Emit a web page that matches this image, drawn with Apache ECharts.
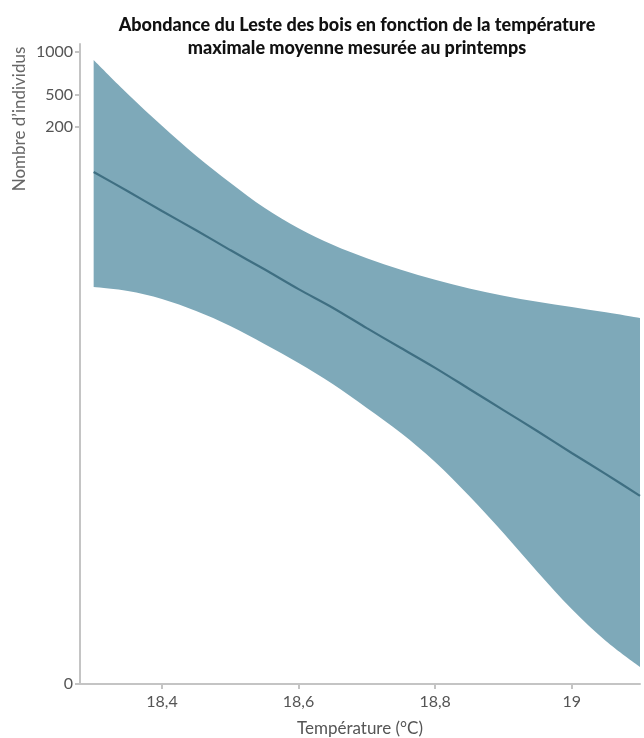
<!DOCTYPE html>
<html>
<head>
<meta charset="utf-8">
<script src="https://cdn.jsdelivr.net/npm/echarts@6/dist/echarts.min.js"></script>
<style>
html,body{margin:0;padding:0;background:#fff;}
#chart{width:644px;height:738px;}
</style>
</head>
<body>
<div id="chart"></div>
<script>
// Temperature (°C)
var temperatures = [18.30,18.35,18.40,18.45,18.50,18.55,18.60,18.65,18.70,18.75,18.80,18.85,18.90,18.95,19.00,19.05,19.10];
// Values in the chart's own (non-linear) vertical units
var upperBound = [97.5,92.19,87.23,82.55,78.33,74.42,71.22,68.63,66.53,64.73,63.17,61.80,60.66,59.72,58.91,58.08,57.19];
var fitted     = [80.0,77.0,73.9,70.9,67.8,64.8,61.7,58.8,55.6,52.5,49.4,46.1,42.8,39.5,36.1,32.8,29.4];
var lowerBound = [62.03,61.41,60.16,58.28,55.94,53.13,50.16,46.88,43.13,39.22,34.69,29.38,23.59,17.5,11.72,6.72,2.66];
// Y tick labels and their positions on that scale
var yTickLabels = ['0','200','500','1000'];
var yTickPositions = [0, 87.0, 92.0, 98.75];
var xTicks = [18.4, 18.6, 18.8, 19.0];

var lineData = temperatures.map(function(t,i){return [t, fitted[i]];});

function crSegments(pts){
  // Catmull-Rom -> cubic bezier path commands through pts (excluding initial move)
  var s = '';
  for (var i=0;i<pts.length-1;i++){
    var p0 = pts[Math.max(i-1,0)], p1 = pts[i], p2 = pts[i+1], p3 = pts[Math.min(i+2,pts.length-1)];
    var c1x = p1[0] + (p2[0]-p0[0])/6, c1y = p1[1] + (p2[1]-p0[1])/6;
    var c2x = p2[0] - (p3[0]-p1[0])/6, c2y = p2[1] - (p3[1]-p1[1])/6;
    s += ' C' + c1x + ' ' + c1y + ' ' + c2x + ' ' + c2y + ' ' + p2[0] + ' ' + p2[1];
  }
  return s;
}

var FONT = 'Lato';
var chart = echarts.init(document.getElementById('chart'), null, {renderer:'canvas'});
chart.setOption({
  animation:false,
  backgroundColor:'#ffffff',
  title:{
    text:'Abondance du Leste des bois en fonction de la température\nmaximale moyenne mesurée au printemps',
    left:352, top:9, textAlign:'center',
    textStyle:{fontFamily:FONT, fontWeight:900, fontSize:18, lineHeight:23, color:'#111'}
  },
  graphic:[{
    type:'text', x:20, y:119, rotation:Math.PI/2,
    style:{text:'Nombre d\u2019individus', fontFamily:FONT, fontSize:17, fill:'#666', align:'center', verticalAlign:'middle'}
  }],
  grid:{left:80, right:4, top:44, bottom:54, outerBoundsMode:'none', containLabel:false},
  xAxis:{
    type:'value', min:18.28, max:19.1,
    name:'Température (°C)', nameLocation:'middle', nameGap:36,
    nameTextStyle:{fontFamily:FONT, fontSize:17, color:'#555'},
    axisLine:{show:true, lineStyle:{color:'#c4c4c4', width:2}},
    axisTick:{show:true, customValues:xTicks, length:5, lineStyle:{color:'#c4c4c4', width:2}},
    axisLabel:{customValues:xTicks, fontFamily:FONT, fontSize:16, color:'#555', margin:10,
      formatter:function(v){return String(+v.toFixed(1)).replace('.', ',');}},
    splitLine:{show:false}
  },
  yAxis:{
    type:'value', min:0, max:100,
    axisLine:{show:true, lineStyle:{color:'#c4c4c4', width:2}},
    axisTick:{show:true, customValues:yTickPositions, length:5, lineStyle:{color:'#c4c4c4', width:2}},
    axisLabel:{customValues:yTickPositions, fontFamily:FONT, fontSize:16, color:'#555', margin:7,
      formatter:function(v){var i=yTickPositions.indexOf(v); return i>=0?yTickLabels[i]:'';}},
    splitLine:{show:false}
  },
  series:[
    {type:'custom', coordinateSystem:'cartesian2d', data:[[temperatures[0], upperBound[0]]], silent:true, z:1,
     renderItem:function(params, api){
       var up = temperatures.map(function(t,i){return api.coord([t, upperBound[i]]);});
       var lo = temperatures.map(function(t,i){return api.coord([t, lowerBound[i]]);}).reverse();
       var d = 'M' + up[0][0] + ' ' + up[0][1] + crSegments(up) +
               ' L' + lo[0][0] + ' ' + lo[0][1] + crSegments(lo) + ' Z';
       return {type:'path', shape:{pathData:d}, style:{fill:'#7ea9b9', stroke:null}};
     }},
    {type:'line', data:lineData, symbol:'none', smooth:0.3, z:3,
     lineStyle:{color:'#3f6f82', width:2.2}, silent:true}
  ]
});
</script>
</body>
</html>
